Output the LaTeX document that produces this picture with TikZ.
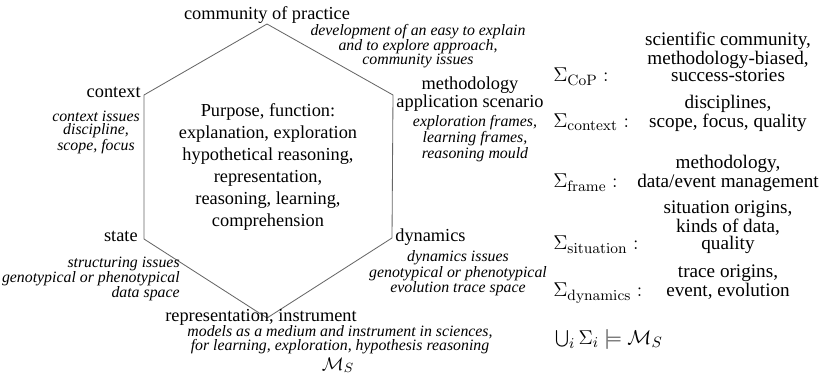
\documentclass[tikz,border=0pt]{standalone}
\usepackage[no-math]{fontspec}
\setmainfont{Liberation Serif}
\begin{document}
\begin{tikzpicture}[x=0.6pt,y=-0.6pt,
  hexline/.style={draw=black!60,line width=0.5pt},
  lab/.style={inner sep=0pt,align=center,font=\fontsize{11}{9.3}\selectfont},
  ital/.style={inner sep=0pt,align=center,font=\fontsize{9.5}{#1}\selectfont\itshape},
  ital/.default=8.8,
  mid/.style={inner sep=0pt,align=center,font=\fontsize{11}{13.3}\selectfont},
  sig/.style={inner sep=0pt,anchor=base west,font=\fontsize{13}{11}\selectfont},
  val/.style={inner sep=0pt,anchor=base,align=center,font=\fontsize{11.5}{10.2}\selectfont}]
\useasboundingbox (0,0) rectangle (833,375);

% hexagon corners
\coordinate (t)  at (267,24);
\coordinate (ur) at (393,95);
\coordinate (lr) at (392,238);
\coordinate (b)  at (267,318);
\coordinate (ll) at (144,239);
\coordinate (ul) at (144,95);
\draw[hexline] (t) -- (ur) -- (lr) -- (b) -- (ll) -- (ul) -- cycle;

% corner labels (multi-line nodes sit on the baseline of their last line)
\node[lab,anchor=base] (cop) at (267,20) {community of practice};
\node[ital=8.7,anchor=base] (copi) at (418,65)
  {development of an easy to explain\\and to explore approach,\\community issues};
\node[lab,anchor=base] (meth) at (470,108) {methodology\\application scenario};
\node[ital=8.4,anchor=base] (methi) at (475,159)
  {exploration frames,\\learning frames,\\reasoning mould};
\node[lab,anchor=base east] (ctx) at (141,98) {context};
\node[ital=8.1,anchor=base] (ctxi) at (96,151) {context issues\\discipline,\\scope, focus};
\node[lab,anchor=base east] (state) at (138,242) {state};
\node[ital=9,anchor=base east,align=right] (statei) at (180,298)
  {structuring issues\\genotypical or phenotypical\\data space};
\node[lab,anchor=base west] (dyn) at (395,242) {dynamics};
\node[ital=9.3,anchor=base] (dyni) at (458,293)
  {dynamics issues\\genotypical or phenotypical\\evolution trace space};
\node[lab,anchor=base] (rep) at (261,322) {representation, instrument};
\node[ital=9,anchor=base] (repi) at (340,351)
  {models as a medium and instrument in sciences,\\for learning, exploration, hypothesis reasoning};
\node[inner sep=0pt,anchor=base,font=\fontsize{11}{13}\selectfont] (ms) at (338,370) {$\mathcal{M}_S$};

% purpose inside the hexagon
\node[mid,anchor=base] (purpose) at (268,227)
  {Purpose, function:\\explanation, exploration\\hypothetical reasoning,\\representation,\\reasoning, learning,\\comprehension};

% signatures
\node[sig] (scop) at (553,82) {$\Sigma_{\mathrm{CoP}}:$};
\node[val] (vcop) at (728,82) {scientific community,\\methodology-biased,\\success-stories};
\node[sig] (sctx) at (553,128) {$\Sigma_{\mathrm{context}}:$};
\node[val] (vctx) at (728,128) {disciplines,\\scope, focus, quality};
\node[sig] (sfrm) at (553,188) {$\Sigma_{\mathrm{frame}}:$};
\node[val] (vfrm) at (728,188) {methodology,\\data/event management};
\node[sig] (ssit) at (553,250) {$\Sigma_{\mathrm{situation}}:$};
\node[val] (vsit) at (728,250) {situation origins,\\kinds of data,\\quality};
\node[sig] (sdyn) at (553,297) {$\Sigma_{\mathrm{dynamics}}:$};
\node[val] (vdyn) at (728,297) {trace origins,\\event, evolution};
\node[sig] (union) at (555,344) {$\bigcup_i \Sigma_i \models \mathcal{M}_S$};
\end{tikzpicture}
\end{document}
